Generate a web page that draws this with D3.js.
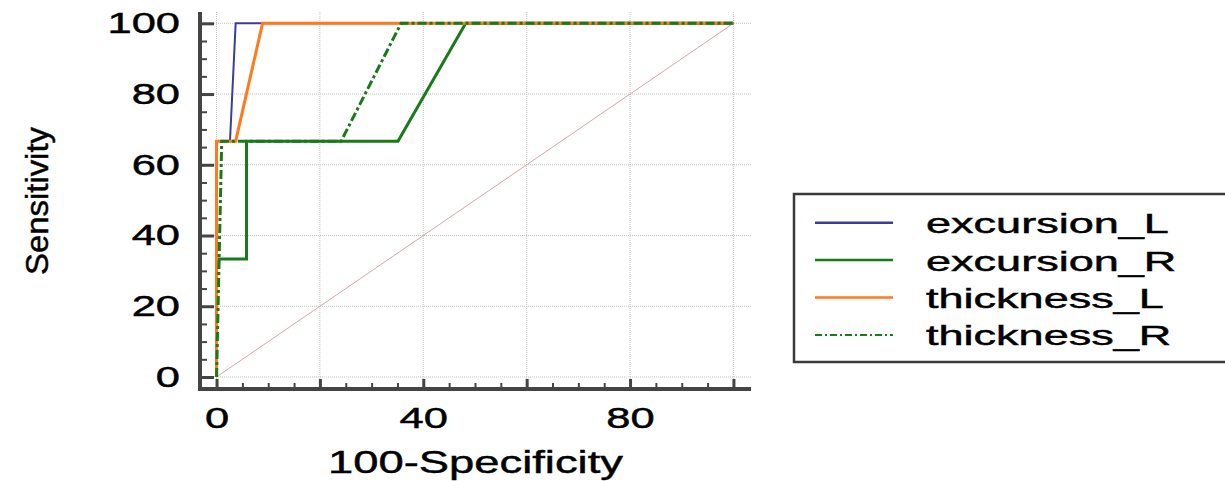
<!DOCTYPE html>
<html>
<head>
<meta charset="utf-8">
<script src="https://cdn.jsdelivr.net/npm/d3@7"></script>
<style>
  html, body { margin: 0; padding: 0; background: #fff; }
  svg { display: block; font-family: "Liberation Sans", Arial, sans-serif; }
  svg text { stroke: #000; stroke-width: 0.45px; }
</style>
</head>
<body>
<script>
// ROC curves, values
const seriesNames = ["excursion_L", "excursion_R", "thickness_L", "thickness_R"];
const seriesColors = ["#3c3ca0", "#187a18", "#ff7a1a", "#187a18"];

const excursionL_x = [0, 0, 2.6, 3.7, 100];
const excursionL_y = [0, 66.67, 66.67, 100, 100];

const excursionR_x = [0, 0, 5.8, 5.8, 35.1, 48.2, 100];
const excursionR_y = [0, 33.33, 33.33, 66.67, 66.67, 100, 100];

const thicknessL_x = [0, 0, 3.7, 8.9, 100];
const thicknessL_y = [0, 66.67, 66.67, 100, 100];

const thicknessR_x = [0, 1.0, 24.1, 35.7, 100];
const thicknessR_y = [0, 66.67, 66.67, 100, 100];

const diagonal_x = [0, 100];
const diagonal_y = [0, 100];

const majorTicks = [0, 20, 40, 60, 80, 100];
const xTickLabels = [0, 40, 80];
const minorTicks = [5, 10, 15, 25, 30, 35, 45, 50, 55, 65, 70, 75, 85, 90, 95];

const W = 1225, H = 481;
const margin = { top: 12, left: 200 },
    width = 551,
    height = 377;

const svg = d3.select("body").append("svg")
    .attr("width", W)
    .attr("height", H);

const x = d3.scaleLinear().domain([-3.2, 103.4]).range([margin.left, margin.left + width]);
const y = d3.scaleLinear().domain([-3.4, 103.2]).range([margin.top + height, margin.top]);

function zipXY(xs, ys) {
    return xs.map((v, i) => ({ x: v, y: ys[i] }));
}

const series = [
    { name: seriesNames[0], color: seriesColors[0], width: 2, dash: null, pts: zipXY(excursionL_x, excursionL_y) },
    { name: seriesNames[1], color: seriesColors[1], width: 3, dash: null, pts: zipXY(excursionR_x, excursionR_y) },
    { name: seriesNames[2], color: seriesColors[2], width: 3, dash: null, pts: zipXY(thicknessL_x, thicknessL_y) },
    { name: seriesNames[3], color: seriesColors[3], width: 3, dash: "9,3,3,3", pts: zipXY(thicknessR_x, thicknessR_y) }
];

// grid
const grid = svg.append("g").attr("class", "grid");
grid.selectAll(".gx").data(majorTicks).enter().append("line")
    .attr("x1", d => x(d)).attr("x2", d => x(d))
    .attr("y1", y.range()[1]).attr("y2", y.range()[0])
    .attr("stroke", "#c4c4c4").attr("stroke-width", 1).attr("stroke-dasharray", "1,1");
grid.selectAll(".gy").data(majorTicks).enter().append("line")
    .attr("y1", d => y(d)).attr("y2", d => y(d))
    .attr("x1", x.range()[0]).attr("x2", x.range()[1])
    .attr("stroke", "#c4c4c4").attr("stroke-width", 1).attr("stroke-dasharray", "1,1");

const line = d3.line().x(d => x(d.x)).y(d => y(d.y));

// reference diagonal
svg.append("path")
    .datum(zipXY(diagonal_x, diagonal_y))
    .attr("d", line)
    .attr("fill", "none")
    .attr("stroke", "#d8a6a6")
    .attr("stroke-width", 1);

// curves
series.forEach(s => {
    svg.append("path")
        .datum(s.pts)
        .attr("d", line)
        .attr("fill", "none")
        .attr("stroke", s.color)
        .attr("stroke-width", s.width)
        .attr("stroke-dasharray", s.dash)
        .attr("stroke-linejoin", "miter");
});

// axes
const axisColor = "#444";
const tickFont = 29, tickStretch = 1.5;

const yAxis = svg.append("g")
    .attr("transform", "translate(" + x.range()[0] + ",0)")
    .call(d3.axisLeft(y).tickValues(majorTicks).tickSize(-14).tickSizeOuter(0).tickPadding(0));
yAxis.select(".domain").remove();
yAxis.selectAll(".tick line").attr("stroke", axisColor).attr("stroke-width", 3);
yAxis.selectAll(".tick text")
    .attr("x", 0)
    .attr("fill", "#000")
    .style("font-size", tickFont + "px")
    .attr("text-anchor", "end")
    .attr("transform", "translate(-20,0) scale(" + tickStretch + ",1)");

svg.append("g")
    .attr("transform", "translate(" + x.range()[0] + ",0)")
    .call(d3.axisLeft(y).tickValues(minorTicks).tickSize(-7).tickFormat(""))
    .call(g => g.select(".domain").remove())
    .selectAll(".tick line").attr("stroke", axisColor).attr("stroke-width", 2);

const xAxis = svg.append("g")
    .attr("transform", "translate(0," + y.range()[0] + ")")
    .call(d3.axisBottom(x).tickValues(majorTicks).tickSize(-10).tickSizeOuter(0).tickPadding(18)
        .tickFormat(d => xTickLabels.includes(d) ? d : ""));
xAxis.select(".domain").remove();
xAxis.selectAll(".tick line").attr("stroke", axisColor).attr("stroke-width", 3);
xAxis.selectAll(".tick text")
    .attr("fill", "#000")
    .style("font-size", tickFont + "px")
    .attr("transform", "scale(" + tickStretch + ",1)");

svg.append("g")
    .attr("transform", "translate(0," + y.range()[0] + ")")
    .call(d3.axisBottom(x).tickValues(minorTicks).tickSize(-6).tickFormat(""))
    .call(g => g.select(".domain").remove())
    .selectAll(".tick line").attr("stroke", axisColor).attr("stroke-width", 2);

// thick axis lines
svg.append("line")
    .attr("x1", x.range()[0]).attr("x2", x.range()[0])
    .attr("y1", y.range()[1]).attr("y2", y.range()[0] + 2)
    .attr("stroke", axisColor).attr("stroke-width", 4);
svg.append("line")
    .attr("x1", x.range()[0] - 2).attr("x2", x.range()[1])
    .attr("y1", y.range()[0]).attr("y2", y.range()[0])
    .attr("stroke", axisColor).attr("stroke-width", 4);

// scale a text element along its own direction to a target length
function fitText(sel, target) {
    const n = sel.node().getComputedTextLength();
    return target / n;
}

// axis titles
const xt = svg.append("text")
    .text("100-Specificity")
    .style("font-size", "32px")
    .attr("text-anchor", "middle")
    .attr("fill", "#000");
const xs = fitText(xt, 295);
xt.attr("transform", "translate(475.5,473) scale(" + xs + ",1)");

const yt = svg.append("text")
    .text("Sensitivity")
    .style("font-size", "31px")
    .attr("text-anchor", "middle")
    .attr("fill", "#000");
const ys = fitText(yt, 148);
yt.attr("transform", "translate(48,201) rotate(-90) scale(" + ys + ",1)");

// legend
const legend = svg.append("g");
legend.append("rect")
    .attr("x", 794).attr("y", 194)
    .attr("width", 460).attr("height", 168)
    .attr("fill", "#fff")
    .attr("stroke", "#3a3a3a")
    .attr("stroke-width", 2.5);

const legendY0 = 222.7, legendStep = 37.4;
let legendScale = null;
series.forEach((s, i) => {
    const ly = legendY0 + i * legendStep;
    legend.append("line")
        .attr("x1", 815).attr("x2", 893)
        .attr("y1", ly).attr("y2", ly)
        .attr("stroke", s.color)
        .attr("stroke-width", s.dash ? 2 : 2.5)
        .attr("stroke-dasharray", s.dash ? "7,3,2,3" : null);
    const t = legend.append("text")
        .text(s.name)
        .style("font-size", "27px")
        .attr("fill", "#000");
    if (legendScale === null) legendScale = fitText(t, 243);
    t.attr("transform", "translate(926," + (ly + 10.5) + ") scale(" + legendScale + ",1)");
});
</script>
</body>
</html>
